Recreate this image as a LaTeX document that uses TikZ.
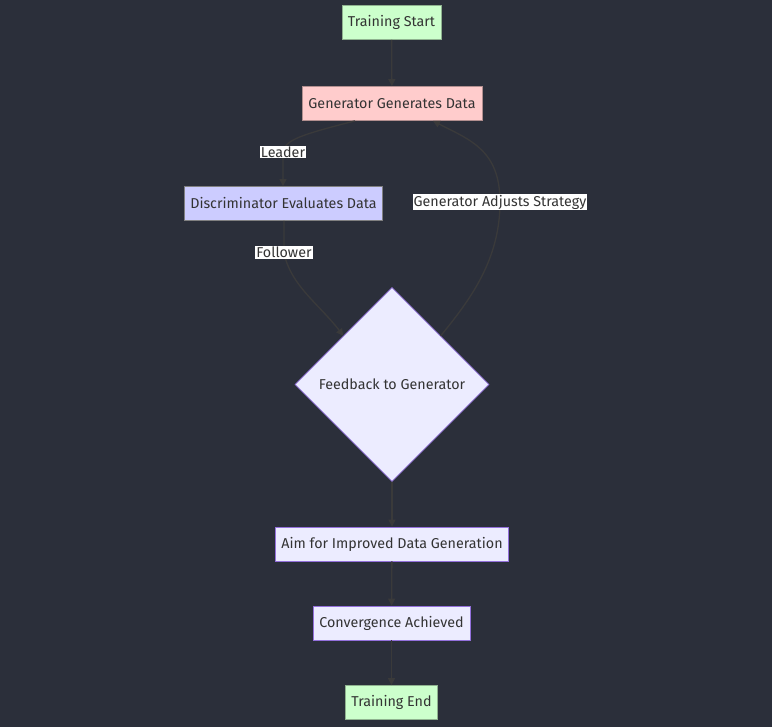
\documentclass[tikz,border=0pt]{standalone}
\usepackage{fontspec}
\setmainfont{Fira Sans}
\usetikzlibrary{shapes.geometric,arrows.meta}
\definecolor{bgdark}{HTML}{2B2F3A}
\definecolor{edgecol}{HTML}{3A3A3A}
\definecolor{startfill}{HTML}{CCFFCC}
\definecolor{genfill}{HTML}{FFCCCC}
\definecolor{discfill}{HTML}{CCCCFF}
\definecolor{plainfill}{HTML}{ECECFF}
\definecolor{plainline}{HTML}{9370DB}
\definecolor{textcol}{HTML}{333333}
\tikzset{
  lbl/.style={font=\fontsize{14.3}{16}\selectfont},
  box/.style={rectangle, draw=#1, line width=0.8pt, text=textcol, lbl, inner xsep=6pt, minimum height=34pt},
  startbox/.style={box=startfill!70!black, fill=startfill},
  genbox/.style={box=genfill!70!black, fill=genfill},
  discbox/.style={box=gray, fill=discfill},
  plainbox/.style={box=plainline, fill=plainfill},
  decision/.style={diamond, draw=plainline, line width=0.8pt, fill=plainfill, text=textcol, lbl, minimum width=194pt, minimum height=194pt, inner sep=0pt},
  link/.style={draw=edgecol, line width=1.3pt, -{Triangle[length=7pt,width=7pt]}},
  tag/.style={fill=white, text=textcol, lbl, inner sep=1pt}
}
\begin{document}
\begin{tikzpicture}[x=1pt,y=-1pt]
\fill[bgdark] (0,0) rectangle (772,727);
\useasboundingbox (0,0) rectangle (772,727);

\node[startbox, minimum width=97pt] (start) at (391.5,22.5) {Training Start};
\node[genbox, minimum width=180pt] (gen) at (392,103.5) {Generator Generates Data};
\node[discbox, minimum width=195pt] (disc) at (283.5,203.5) {Discriminator Evaluates Data};
\node[decision] (fb) at (392,384.5) {Feedback to Generator};
\node[plainbox, minimum width=232pt] (aim) at (392,544) {Aim for Improved Data Generation};
\node[plainbox, minimum width=157pt] (conv) at (391.5,623) {Convergence Achieved};
\node[startbox, minimum width=89pt] (end) at (391.5,702.5) {Training End};

\coordinate (leadpt) at (283,152);
\coordinate (followpt) at (284,252.5);
\coordinate (adjpt) at (500,202);

\draw[link] (start) -- (gen);
\draw[link] (gen.south -| 355,0) .. controls (300,135) and (285,140) .. (leadpt) -- (disc.north -| leadpt);
\draw[link] (disc.south -| followpt) -- (followpt) .. controls (290,285) and (320,305) .. (fb.north west);
\draw[link] (fb.north east) .. controls (470,300) and (500,260) .. (adjpt) .. controls (500,150) and (470,140) .. (gen.south -| 433,0);
\draw[link] (fb) -- (aim);
\draw[link] (aim) -- (conv);
\draw[link] (conv) -- (end);

\node[tag] (leader) at (leadpt) {Leader};
\node[tag] (follower) at (followpt) {Follower};
\node[tag] (adjust) at (adjpt) {Generator Adjusts Strategy};
\end{tikzpicture}
\end{document}
